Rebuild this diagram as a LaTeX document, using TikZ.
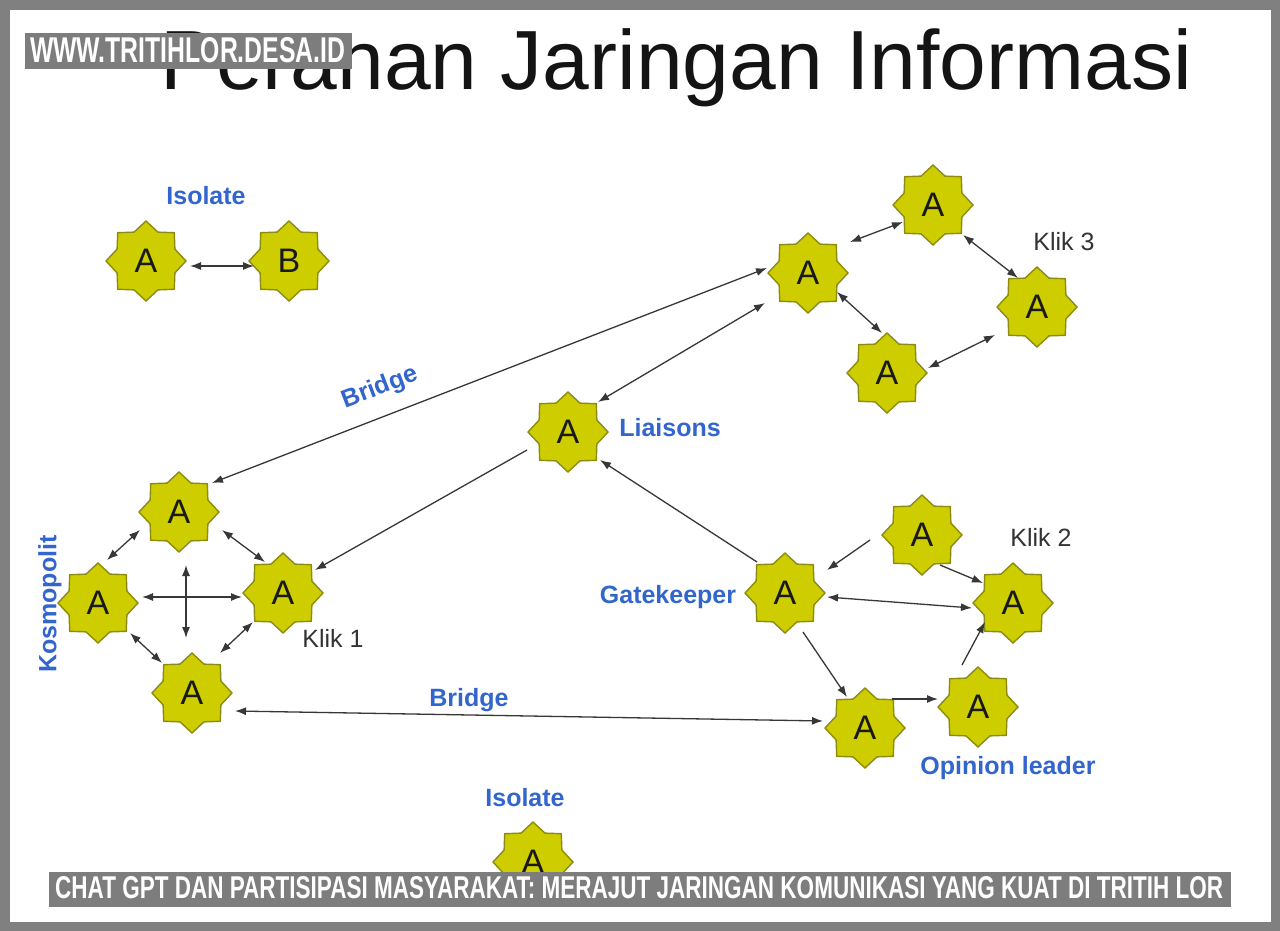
\documentclass[tikz,border=0pt]{standalone}
\usepackage{fontspec}
\usepackage{graphicx}
\setmainfont{Liberation Sans}
\usetikzlibrary{shapes.geometric,arrows.meta}
\definecolor{starfill}{RGB}{205,205,0}
\definecolor{stardraw}{RGB}{140,140,20}
\definecolor{lblue}{RGB}{51,102,204}
\definecolor{edgecol}{RGB}{55,55,55}
\definecolor{framegrey}{RGB}{128,128,128}
\definecolor{bannergrey}{RGB}{125,125,125}
\begin{document}
\begin{tikzpicture}[x=1pt,y=-1pt,
 actor/.style={star, star points=8, star point ratio=1.28, minimum size=80pt, inner sep=0pt, fill=starfill, draw=stardraw, line width=1.4pt, font=\fontsize{34}{40}\selectfont, text=black!90},
 lab/.style={text=lblue, font=\bfseries\fontsize{25}{30}\selectfont, inner sep=0pt},
 klik/.style={text=black!80, font=\fontsize{25}{30}\selectfont, inner sep=0pt},
 conn/.style={draw=edgecol, line width=1.3pt},
 one/.style={conn, -{Latex[length=11pt,width=8pt]}},
 two/.style={conn, {Latex[length=11pt,width=8pt]}-{Latex[length=11pt,width=8pt]}},
]
\useasboundingbox (0,0) rectangle (1280,931);
\fill[framegrey] (0,0) rectangle (1280,931);
\fill[white] (10,10) rectangle (1271,922);

% title
\node[anchor=base, inner sep=0pt, font=\fontsize{84}{90}\selectfont, text=black!92] (title) at (676,90) {Peranan Jaringan Informasi};

% actors
\node[actor] (iA) at (146,261) {A};
\node[actor] (iB) at (289,261) {B};
\node[actor] (k3a) at (808,273) {A};
\node[actor] (k3t) at (933,205) {A};
\node[actor] (k3r) at (1037,307) {A};
\node[actor] (k3b) at (887,373) {A};
\node[actor] (L) at (568,432) {A};
\node[actor] (k1t) at (179,512) {A};
\node[actor] (k1l) at (98,603) {A};
\node[actor] (k1r) at (283,593) {A};
\node[actor] (k1b) at (192,693) {A};
\node[actor] (G) at (785,593) {A};
\node[actor] (k2t) at (922,535) {A};
\node[actor] (k2r) at (1013,603) {A};
\node[actor] (o1) at (865,728) {A};
\node[actor] (o2) at (978,707) {A};
\node[actor] (iso) at (533,862) {A};

% labels
\node[lab] (lisoA) at (206,196) {Isolate};
\node[lab, rotate=21] (lbr1) at (380,388) {Bridge};
\node[lab] (lli) at (670,428) {Liaisons};
\node[lab, rotate=90] (lko) at (50,604) {Kosmopolit};
\node[klik] (lk1) at (333,638) {Klik 1};
\node[lab] (lbr2) at (469,700) {Bridge};
\node[lab] (lgk) at (668,597) {Gatekeeper};
\node[klik] (lk2) at (1041,537) {Klik 2};
\node[klik] (lk3) at (1064,242) {Klik 3};
\node[lab] (lol) at (1008,768) {Opinion leader};
\node[lab] (lisoB) at (525,798) {Isolate};

% connectors
\draw[two] ([shift={(44,5)}]iA.center) -- ([shift={(-35,5)}]iB.center);
\draw[two] ([shift={(-41,-5)}]k3a.center) -- ([shift={(33,-29)}]k1t.center);
\draw[two] ([shift={(30,-30)}]L.center) -- ([shift={(-43,30)}]k3a.center);
\draw[one] ([shift={(-41,18)}]L.center) -- ([shift={(32,-23)}]k1r.center);
\draw[one] ([shift={(-28,-31)}]G.center) -- ([shift={(32,28)}]L.center);
\draw[one] ([shift={(-52,5)}]k2t.center) -- ([shift={(42,-23)}]G.center);
\draw[one] ([shift={(18,30)}]k2t.center) -- ([shift={(-30,-20)}]k2r.center);
\draw[two] ([shift={(42,4)}]G.center) -- ([shift={(-41,5)}]k2r.center);
\draw[one] ([shift={(18,39)}]G.center) -- ([shift={(-18,-31)}]o1.center);
\draw[one] ([shift={(27,-29)}]o1.center) -- ([shift={(-40,-8)}]o2.center);
\draw[one] ([shift={(-16,-42)}]o2.center) -- ([shift={(-28,19)}]k2r.center);
\draw[two] ([shift={(43,18)}]k1b.center) -- ([shift={(-42,-7)}]o1.center);
\draw[two] ([shift={(-39,18)}]k1t.center) -- ([shift={(9,-43)}]k1l.center);
\draw[two] ([shift={(43,18)}]k1t.center) -- ([shift={(-18,-31)}]k1r.center);
\draw[two] ([shift={(44,-6)}]k1l.center) -- ([shift={(-41,4)}]k1r.center);
\draw[two] ([shift={(7,53)}]k1t.center) -- ([shift={(-6,-55)}]k1b.center);
\draw[two] ([shift={(32,30)}]k1l.center) -- ([shift={(-30,-30)}]k1b.center);
\draw[two] ([shift={(-30,29)}]k1r.center) -- ([shift={(28,-40)}]k1b.center);
\draw[two] ([shift={(42,-31)}]k3a.center) -- ([shift={(-30,17)}]k3t.center);
\draw[two] ([shift={(30,30)}]k3t.center) -- ([shift={(-19,-29)}]k3r.center);
\draw[two] ([shift={(29,19)}]k3a.center) -- ([shift={(-5,-40)}]k3b.center);
\draw[two] ([shift={(41,-5)}]k3b.center) -- ([shift={(-42,28)}]k3r.center);

% watermark and banner
\fill[bannergrey] (25,33) rectangle (352,69);
\node[anchor=south west, inner sep=0pt, text=white] (wm) at (30,63) {\resizebox{315pt}{25pt}{\bfseries WWW.TRITIHLOR.DESA.ID}};
\fill[bannergrey] (49,872) rectangle (1231,907);
\node[anchor=south west, inner sep=0pt, text=white] (ban) at (55,899) {\resizebox{1168pt}{22pt}{\bfseries CHAT GPT DAN PARTISIPASI MASYARAKAT: MERAJUT JARINGAN KOMUNIKASI YANG KUAT DI TRITIH LOR}};
\end{tikzpicture}
\end{document}
